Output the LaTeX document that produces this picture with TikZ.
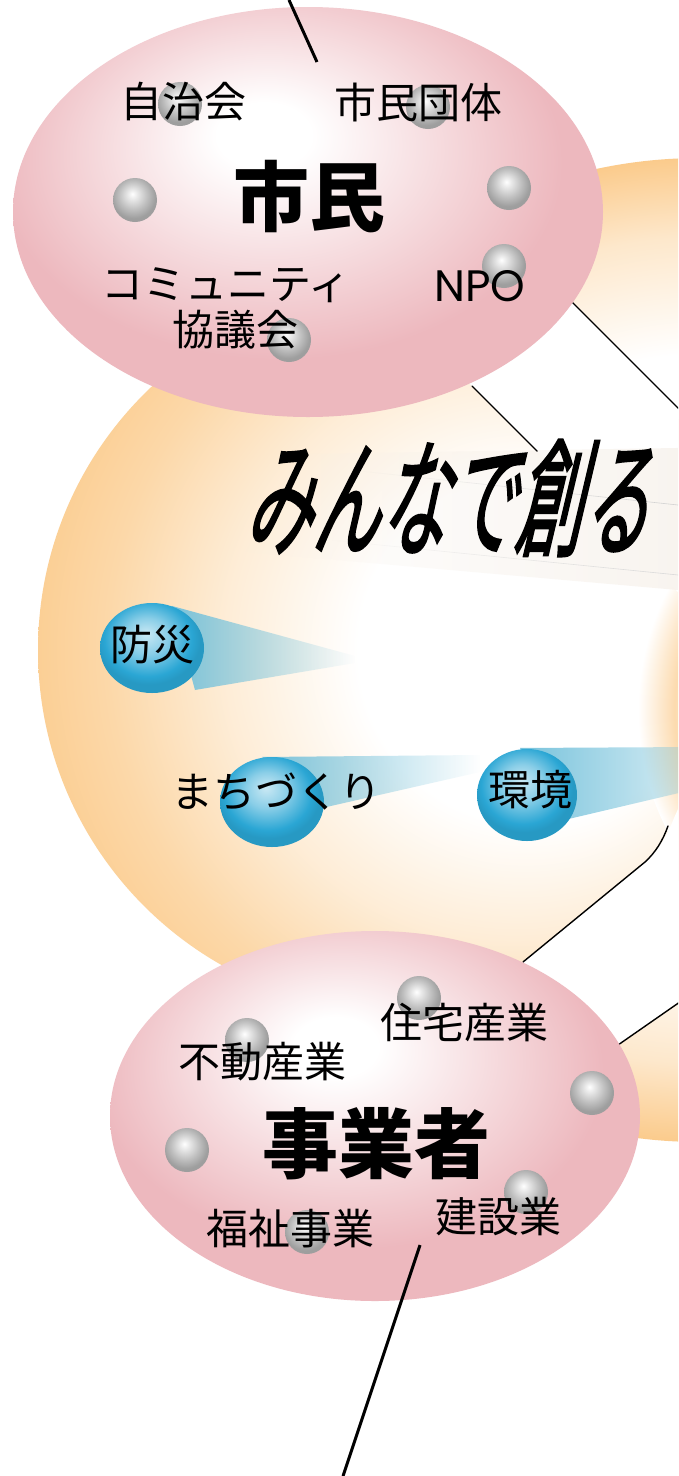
\documentclass[tikz,border=0pt]{standalone}
\usepackage{fontspec}
\usepackage{graphicx}
\newfontfamily\jp{Noto Sans CJK JP}
\newfontfamily\jpsl[FakeSlant=0.45,FakeBold=2]{Noto Sans CJK JP}
\newfontfamily\npofont{Poppins}
\usetikzlibrary{shapes.geometric,fadings}
\definecolor{ora}{RGB}{251,203,140}
\definecolor{pinkc}{RGB}{237,184,190}
\definecolor{blu}{RGB}{42,166,212}
\definecolor{beamc}{RGB}{120,195,220}
\definecolor{ribbon}{RGB}{246,240,233}

\pgfdeclareradialshading{shB}{\pgfpoint{0bp}{0bp}}{color(0bp)=(white); color(15bp)=(white); color(21bp)=(ora!45!white); color(25bp)=(ora); color(60bp)=(ora)}
\pgfdeclareradialshading{shA}{\pgfpoint{11bp}{0bp}}{color(0bp)=(white); color(12bp)=(white); color(20bp)=(ora!35!white); color(27bp)=(ora!75!white); color(33bp)=(ora); color(70bp)=(ora)}
\pgfdeclareradialshading{shC}{\pgfpoint{0bp}{0bp}}{color(0bp)=(white); color(17bp)=(white); color(21.5bp)=(ora!70!white); color(25bp)=(white); color(60bp)=(white)}
\pgfdeclareradialshading{pinksh}{\pgfpoint{-4bp}{10bp}}{color(0bp)=(white); color(4bp)=(white); color(15bp)=(pinkc!55!white); color(24bp)=(pinkc); color(60bp)=(pinkc)}
\pgfdeclareradialshading{graysh}{\pgfpoint{-3bp}{7bp}}{color(0bp)=(white); color(5bp)=(black!8); color(16bp)=(black!25); color(25bp)=(black!38); color(60bp)=(black!38)}
\pgfdeclareradialshading{bluesh}{\pgfpoint{-3bp}{8bp}}{color(0bp)=(blu!25!white); color(10bp)=(blu!55!white); color(21bp)=(blu); color(25bp)=(blu!92!black); color(60bp)=(blu!92!black)}

\tikzfading[name=fadeR, left color=transparent!0, right color=transparent!100]
\tikzfading[name=fadeRsoft, left color=transparent!0, right color=transparent!75]
\tikzfading[name=fadeL, left color=transparent!100, right color=transparent!0]

\tikzset{
  lab/.style={font=\jp\fontsize{42}{42}\selectfont, inner sep=0pt},
  biglab/.style={font=\jp\bfseries\fontsize{76}{76}\selectfont, inner sep=0pt},
  gball/.style={circle, minimum size=44pt, inner sep=0pt, shade, shading=graysh},
  bball/.style={ellipse, minimum width=104pt, minimum height=90pt, inner sep=0pt, shade, shading=bluesh},
  pinkell/.style={ellipse, inner sep=0pt, shade, shading=pinksh},
  bandline/.style={line width=1.4pt, line cap=round},
  pointer/.style={line width=3pt},
  beam/.style={fill=beamc},
}

\begin{document}
\begin{tikzpicture}[x=1pt,y=-1pt]
\path[use as bounding box] (0,0) rectangle (678,1476);
\fill[white] (0,0) rectangle (678,1476);
\begin{scope}
\clip (0,0) rectangle (678,1476);

% background circles
\shade[shading=shB] (700,650) circle[radius=492pt];
\shade[shading=shA] (400,650) circle[radius=362pt];
\shade[shading=shC] (900,710) circle[radius=262pt];

% white bands
\fill[white] (380,110) -- (900,630) -- (900,814) -- (380,294) -- cycle;
\fill[white] (400,1063) -- (645,862) .. controls (658,851) and (666,838) .. (674,818) -- (700,760) -- (720,972) -- (450,1166) -- cycle;

% ribbon behind motto
\fill[ribbon, fill opacity=0.7, path fading=fadeL] (245,552) -- (678,590) -- (678,448) -- (300,454) -- cycle;
\draw[black!18, line width=0.6pt, path fading=fadeL] (350,470) -- (678,505);
\draw[black!15, line width=0.6pt, path fading=fadeL] (330,540) -- (678,575);

% beams
\fill[beam, path fading=fadeR] (172,606) -- (355,656) -- (355,663) -- (195,690) -- cycle;
\fill[beam, path fading=fadeR] (262,757) -- (480,755) -- (480,772) -- (322,808) -- cycle;
\fill[beam, path fading=fadeRsoft] (520,748) -- (700,747) -- (700,788) -- (560,821) -- cycle;

% blue spheres
\node[bball] (sBousai) at (152,648) {};
\node[bball] (sMachi) at (272,802) {};
\node[bball, minimum width=100pt, minimum height=92pt] (sKankyo) at (527,795) {};
\node[lab] (tBousai) at (152,645) {防災};
\node[lab] (tMachi) at (276,792) {まちづくり};
\node[lab] (tKankyo) at (530,790) {環境};

% motto
\node[inner sep=0pt, font=\jpsl\fontsize{128}{128}\selectfont] (motto) at (446,498) {\scalebox{0.525}[1]{みんなで創る}};

% band edge lines
\coordinate (uA1) at (572,302); \coordinate (uA2) at (700,430);
\coordinate (uB1) at (472,386); \coordinate (uB2) at (537,451);
\draw[bandline] (uA1) -- (uA2);
\draw[bandline] (uB1) -- (uB2);
\coordinate (lA1) at (523,962); \coordinate (lA2) at (645,862); \coordinate (lA3) at (668,826);
\coordinate (lB1) at (618,1045); \coordinate (lB2) at (700,988);
\draw[bandline] (lA1) -- (lA2) .. controls (656,852) and (663,840) .. (lA3);
\draw[bandline] (lB1) -- (lB2);

% citizens ellipse
\node[pinkell, minimum width=590pt, minimum height=410pt] (shimin) at (308,212) {};
\node[gball] (g1) at (180,104) {};
\node[gball] (g2) at (428,107) {};
\node[gball] (g3) at (135,200) {};
\node[gball] (g4) at (509,188) {};
\node[gball] (g5) at (504,266) {};
\node[gball] (g6) at (289,340) {};
\node[lab] (jichi) at (183,102) {自治会};
\node[lab] (dantai) at (418,102) {市民団体};
\node[biglab] (tShimin) at (309,197) {市民};
\node[lab] (comm) at (226,285) {コミュニティ};
\node[lab] (kyogi) at (235,330) {協議会};
\node[inner sep=0pt, font=\npofont\fontsize{44}{44}\selectfont] (npo) at (480,286) {NPO};

% business ellipse
\node[pinkell, minimum width=530pt, minimum height=370pt] (jigyo) at (375,1116) {};
\node[gball] (h1) at (419,998) {};
\node[gball] (h2) at (247,1040) {};
\node[gball] (h3) at (592,1093) {};
\node[gball] (h4) at (187,1150) {};
\node[gball] (h5) at (526,1192) {};
\node[gball] (h6) at (307,1232) {};
\node[lab] (jutaku) at (464,1022) {住宅産業};
\node[lab] (fudosan) at (262,1062) {不動産業};
\node[biglab] (tJigyo) at (376,1144) {事業者};
\node[lab] (fukushi) at (290,1229) {福祉事業};
\node[lab] (kensetsu) at (498,1217) {建設業};

% pointer lines
\coordinate (pt1) at (289,0); \coordinate (pt2) at (317,62);
\draw[pointer] (pt1) -- (pt2);
\coordinate (pb1) at (420,1245); \coordinate (pb2) at (343,1476);
\draw[pointer] (pb1) -- (pb2);
\end{scope}
\end{tikzpicture}
\end{document}
